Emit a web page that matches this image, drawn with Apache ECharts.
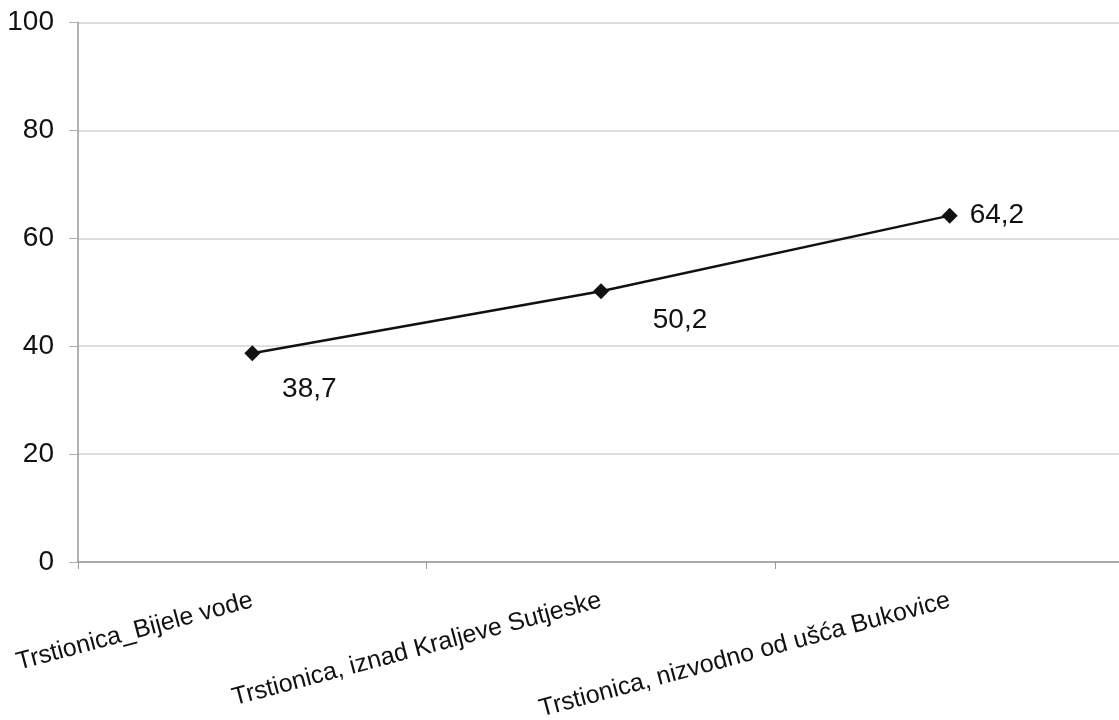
<!DOCTYPE html>
<html>
<head>
<meta charset="utf-8">
<script src="https://cdn.jsdelivr.net/npm/echarts@6/dist/echarts.min.js"></script>
<style>html,body{margin:0;padding:0;background:#fff;}#c{width:1119px;height:720px;}</style>
</head>
<body>
<div id="c"></div>
<script>
const categories = ['Trstionica_Bijele vode', 'Trstionica, iznad Kraljeve Sutjeske', 'Trstionica, nizvodno od ušća Bukovice'];
const values = [38.7, 50.2, 64.2];
const valueLabels = ['38,7', '50,2', '64,2'];
const yTicks = [0, 20, 40, 60, 80, 100];

const labelOffsets = [[57, 36], [79, 29], [0, 0]];
const labelPositions = ['inside', 'inside', 'right'];

const chart = echarts.init(document.getElementById('c'), null, {renderer: 'canvas'});
const FONT = '"Liberation Sans", Arial, sans-serif';
chart.setOption({
  animation: false,
  backgroundColor: '#fff',
  grid: {left: 78, top: 22.5, bottom: 158, right: -5, outerBoundsMode: 'none', containLabel: false},
  xAxis: {
    type: 'category',
    data: categories,
    boundaryGap: true,
    axisLine: {show: true, lineStyle: {color: '#9a9a9a', width: 1.5}},
    axisTick: {show: true, length: 7, lineStyle: {color: '#9a9a9a', width: 1}},
    axisLabel: {rotate: 15, margin: 38, fontSize: 25, color: '#111', fontFamily: FONT, interval: 0},
    splitLine: {show: false}
  },
  yAxis: {
    type: 'value',
    min: yTicks[0], max: yTicks[yTicks.length - 1], interval: 20,
    axisLine: {show: true, lineStyle: {color: '#9a9a9a', width: 1.5}},
    axisTick: {show: true, length: 9, lineStyle: {color: '#b0b0b0', width: 1}},
    axisLabel: {margin: 24, fontSize: 28, color: '#111', fontFamily: FONT},
    splitLine: {show: true, lineStyle: {color: '#d3d3d3', width: 1.5}}
  },
  series: [{
    type: 'line',
    data: values.map((v, i) => ({
      value: v,
      label: {
        show: true,
        position: labelPositions[i],
        offset: labelOffsets[i],
        distance: 12,
        formatter: () => valueLabels[i]
      }
    })),
    symbol: 'diamond',
    symbolSize: 16,
    itemStyle: {color: '#111'},
    lineStyle: {color: '#111', width: 2.5},
    label: {fontSize: 28, color: '#111', fontFamily: FONT}
  }]
});
</script>
</body>
</html>
